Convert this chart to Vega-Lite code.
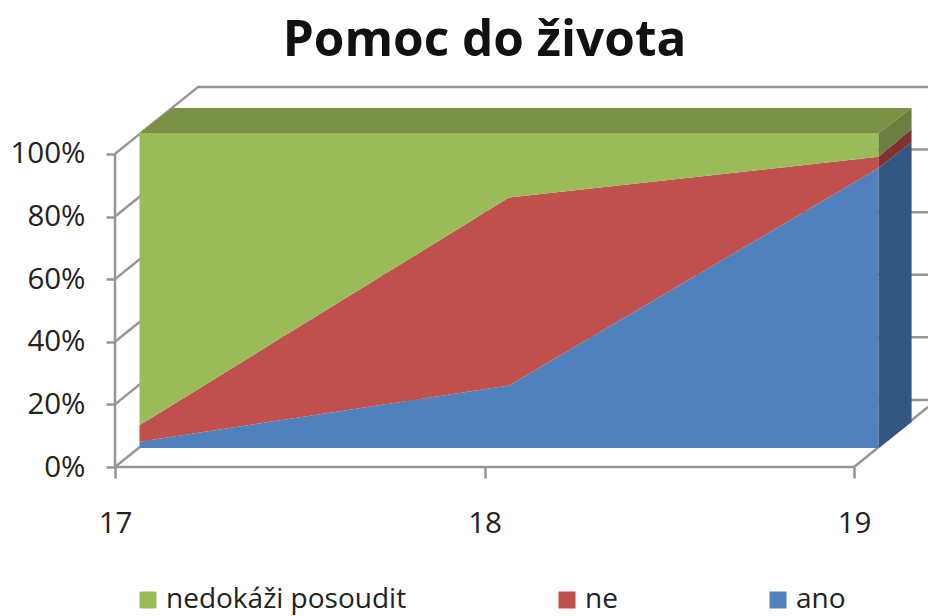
{
"$schema":"https://vega.github.io/schema/vega-lite/v6.json",
"width":813,"height":387,
"autosize":{"type":"none"},
"padding":{"left":115,"top":80,"right":0,"bottom":149},
"background":"white",
"title":{"text":"Pomoc do života","font":"Open Sans","fontWeight":"bold","fontSize":49.5,"color":"#111111","frame":"group","anchor":"middle","dx":-37,"offset":14},
"config":{"view":{"stroke":null},"font":"Open Sans"},
"datasets":{
"shares":[
{"rok":17,"odpoved":"ano","poradi":1,"podil":2},{"rok":17,"odpoved":"ne","poradi":2,"podil":5.3},{"rok":17,"odpoved":"nedokáži posoudit","poradi":3,"podil":93.3},
{"rok":18,"odpoved":"ano","poradi":1,"podil":20},{"rok":18,"odpoved":"ne","poradi":2,"podil":60},{"rok":18,"odpoved":"nedokáži posoudit","poradi":3,"podil":20.6},
{"rok":19,"odpoved":"ano","poradi":1,"podil":89.4},{"rok":19,"odpoved":"ne","poradi":2,"podil":3.6},{"rok":19,"odpoved":"nedokáži posoudit","poradi":3,"podil":7.6}
],
"sides":[
{"x":19,"odpoved":"ano","low":0,"high":89.4},{"x":19.0893,"odpoved":"ano","low":8.3,"high":97.7},
{"x":19,"odpoved":"ne","low":89.4,"high":93},{"x":19.0893,"odpoved":"ne","low":97.7,"high":101.9},
{"x":19,"odpoved":"nedokáži posoudit","low":93,"high":100.6},{"x":19.0893,"odpoved":"nedokáži posoudit","low":101.9,"high":108.6},
{"x":17,"odpoved":"horni","low":100.6,"high":100.6},{"x":17.0893,"odpoved":"horni","low":100.6,"high":108.6},{"x":19,"odpoved":"horni","low":100.6,"high":108.6},{"x":19.0893,"odpoved":"horni","low":108.6,"high":108.6}
],
"walls":[
{"id":"a","x":17,"y":0},{"id":"a","x":17,"y":100},
{"id":"b","x":17,"y":0},{"id":"b","x":19,"y":0},
{"id":"c","x":17,"y":0},{"id":"c","x":17.225,"y":21.4},{"id":"c","x":19.2,"y":21.4},
{"id":"d","x":17,"y":20},{"id":"d","x":17.225,"y":41.4},{"id":"d","x":19.2,"y":41.4},
{"id":"e","x":17,"y":40},{"id":"e","x":17.225,"y":61.4},{"id":"e","x":19.2,"y":61.4},
{"id":"f","x":17,"y":60},{"id":"f","x":17.225,"y":81.4},{"id":"f","x":19.2,"y":81.4},
{"id":"g","x":17,"y":80},{"id":"g","x":17.225,"y":101.4},{"id":"g","x":19.2,"y":101.4},
{"id":"h","x":17,"y":100},{"id":"h","x":17.225,"y":121.4},{"id":"h","x":19.2,"y":121.4},
{"id":"i","x":19,"y":0},{"id":"i","x":19.2,"y":19.2}
]
},
"data":{"name":"shares"},
"resolve":{"scale":{"color":"independent"}},
"encoding":{},
"layer":[
{"data":{"name":"walls"},
 "mark":{"type":"line","color":"#969696","strokeWidth":2.5,"interpolate":"linear"},
 "encoding":{
  "x":{"field":"x","type":"quantitative","scale":{"domain":[17,19.2],"nice":false,"zero":false},
   "axis":{"values":[17,18,19],"format":"d","domain":false,"grid":false,"title":null,"ticks":true,"tickSize":11,"tickWidth":2.5,"tickColor":"#969696","labelFont":"Open Sans","labelFontSize":29.5,"labelColor":"#222222","labelPadding":31,"labelFlush":false,"labelOverlap":false}},
  "y":{"field":"y","type":"quantitative","scale":{"domain":[0,123.6],"nice":false,"zero":false},
   "axis":{"values":[0,20,40,60,80,100],"labelExpr":"datum.value + '%'","domain":false,"grid":false,"title":null,"ticks":true,"tickSize":9,"tickWidth":2.5,"tickColor":"#969696","labelFont":"Open Sans","labelFontSize":29.5,"labelColor":"#222222","labelPadding":21,"labelFlush":false,"labelOverlap":false}},
  "detail":{"field":"id"}
 }},
{"mark":{"type":"area","xOffset":24.5,"x2Offset":24.5,"yOffset":-19,"y2Offset":-19,"interpolate":"linear"},
 "encoding":{
  "x":{"field":"rok","type":"quantitative"},
  "y":{"field":"podil","type":"quantitative","stack":"zero"},
  "order":{"field":"poradi","type":"quantitative","sort":"ascending"},
  "color":{"field":"odpoved","type":"nominal","scale":{"domain":["nedokáži posoudit","ne","ano"],"range":["#9bbb59","#c0504d","#4f81bd"]},
   "sort":["ano","ne","nedokáži posoudit"],
   "legend":{"title":null,"orient":"none","legendX":19,"legendY":506,"direction":"horizontal","columns":3,"columnPadding":146,"gridAlign":"none","symbolType":"square","symbolSize":289,"symbolStrokeWidth":0,"symbolOpacity":1,"labelFont":"Open Sans","labelFontSize":28,"labelLimit":400,"labelColor":"#222222","labelOffset":4,"values":["nedokáži posoudit","ne","ano"]}}
 }},
{"data":{"name":"sides"},
 "mark":{"type":"area","xOffset":24.5,"x2Offset":24.5,"yOffset":-19,"y2Offset":-19,"interpolate":"linear"},
 "encoding":{
  "x":{"field":"x","type":"quantitative"},
  "y":{"field":"low","type":"quantitative","stack":null},
  "y2":{"field":"high"},
  "color":{"field":"odpoved","type":"nominal","legend":null,"scale":{"domain":["ano","ne","nedokáži posoudit","horni"],"range":["#335781","#7f3230","#6b8040","#7a9044"]}}
 }}
]
}
